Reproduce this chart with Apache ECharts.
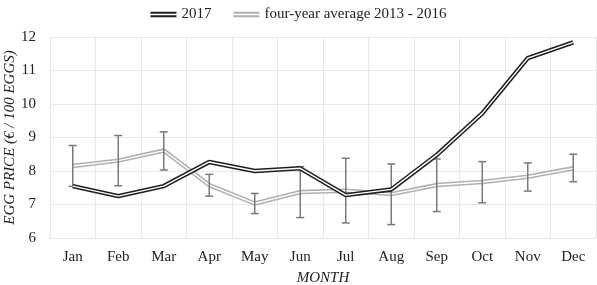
<!DOCTYPE html>
<html lang="en">
<head>
  <meta charset="UTF-8">
  <title>Egg price 2017</title>
  <script src="https://cdn.jsdelivr.net/npm/echarts@6/dist/echarts.min.js"></script>
  <style>
    html, body { margin: 0; padding: 0; background: #fff; }
  </style>
</head>
<body>
  <div id="main" style="width: 597px;height:285px;"></div>
  <script>
    // data
    var months = ['Jan', 'Feb', 'Mar', 'Apr', 'May', 'Jun', 'Jul', 'Aug', 'Sep', 'Oct', 'Nov', 'Dec'];
    var price2017 = [7.55, 7.25, 7.55, 8.27, 8.0, 8.08, 7.28, 7.45, 8.48, 9.72, 11.37, 11.84];
    var avg1316 = [8.15, 8.31, 8.61, 7.58, 7.03, 7.37, 7.41, 7.31, 7.58, 7.67, 7.83, 8.08];
    var errLow = [7.54, 7.56, 8.03, 7.25, 6.73, 6.61, 6.45, 6.40, 6.79, 7.05, 7.40, 7.68];
    var errHigh = [8.76, 9.06, 9.17, 7.90, 7.33, 8.13, 8.38, 8.21, 8.36, 8.28, 8.24, 8.50];

    var font = 'Liberation Serif';
    var doubleIcon = 'path://M0,0h30v2.2h-30z M0,4h30v2.2h-30z';

    var errData = months.map(function (m, i) { return [i, errLow[i], errHigh[i]]; });

    var myChart = echarts.init(document.getElementById('main'));

    var option = {
      animation: false,
      textStyle: { fontFamily: font },
      legend: {
        top: 2,
        left: 'center',
        itemWidth: 26,
        itemHeight: 6,
        itemGap: 22,
        textStyle: { fontFamily: font, fontSize: 15, color: '#222' },
        data: [
          { name: '2017', icon: doubleIcon, itemStyle: { color: '#1e1e1e' } },
          { name: 'four-year average 2013 - 2016', icon: doubleIcon, itemStyle: { color: '#b0b0b0' } }
        ]
      },
      grid: { left: 50, right: 1, top: 37, bottom: 47, containLabel: false, outerBoundsMode: 'none' },
      xAxis: {
        type: 'category',
        data: months,
        boundaryGap: true,
        name: 'MONTH',
        nameLocation: 'middle',
        nameGap: 33,
        nameMoveOverlap: false,
        nameTextStyle: { fontFamily: font, fontStyle: 'italic', fontSize: 15, color: '#222' },
        axisLine: { show: false },
        axisTick: { show: false },
        axisLabel: { fontFamily: font, fontSize: 15, color: '#222', margin: 12, interval: 0 },
        splitLine: { show: true, interval: 0, lineStyle: { color: '#e8e8e8' } }
      },
      yAxis: {
        type: 'value',
        min: 6,
        max: 12,
        interval: 1,
        name: 'EGG PRICE (€ / 100 EGGS)',
        nameLocation: 'middle',
        nameRotate: 90,
        nameGap: 32,
        nameMoveOverlap: false,
        nameTextStyle: { fontFamily: font, fontStyle: 'italic', fontSize: 15, color: '#222' },
        axisLine: { show: false },
        axisTick: { show: false },
        axisLabel: { fontFamily: font, fontSize: 15, color: '#222', margin: 14 },
        splitLine: { lineStyle: { color: '#e8e8e8' } }
      },
      series: [
        // four-year average, drawn as a double line
        {
          name: 'four-year average 2013 - 2016',
          type: 'line',
          data: avg1316,
          symbol: 'none',
          z: 2,
          lineStyle: { color: '#b0b0b0', width: 4.5 }
        },
        {
          name: 'avg-inner',
          type: 'line',
          data: avg1316,
          symbol: 'none',
          z: 3,
          lineStyle: { color: '#ffffff', width: 1.4 }
        },
        // error bars
        {
          name: 'err',
          type: 'custom',
          data: errData,
          z: 4,
          renderItem: function (params, api) {
            var lo = api.coord([api.value(0), api.value(1)]);
            var hi = api.coord([api.value(0), api.value(2)]);
            var w = 4;
            var st = { stroke: '#7a7a7a', lineWidth: 1.5 };
            return {
              type: 'group',
              children: [
                { type: 'line', shape: { x1: lo[0], y1: lo[1], x2: hi[0], y2: hi[1] }, style: st },
                { type: 'line', shape: { x1: lo[0] - w, y1: lo[1], x2: lo[0] + w, y2: lo[1] }, style: st },
                { type: 'line', shape: { x1: hi[0] - w, y1: hi[1], x2: hi[0] + w, y2: hi[1] }, style: st }
              ]
            };
          }
        },
        // 2017, drawn as a double line
        {
          name: '2017',
          type: 'line',
          data: price2017,
          symbol: 'none',
          z: 5,
          lineStyle: { color: '#1e1e1e', width: 4.5 }
        },
        {
          name: '2017-inner',
          type: 'line',
          data: price2017,
          symbol: 'none',
          z: 6,
          lineStyle: { color: '#ffffff', width: 1.4 }
        }
      ]
    };

    myChart.setOption(option);
  </script>
</body>
</html>
